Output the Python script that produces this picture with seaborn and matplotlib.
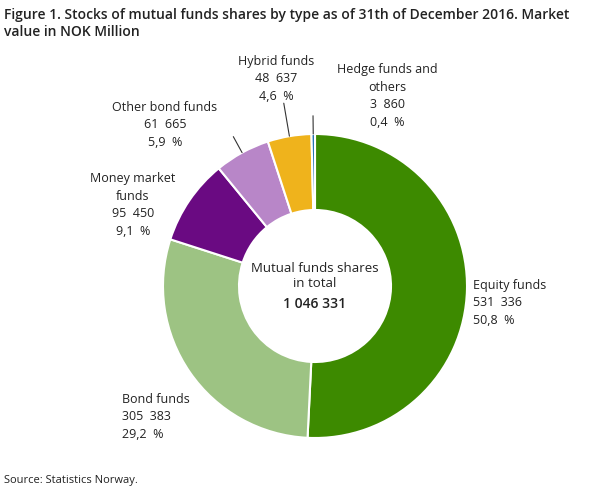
import matplotlib
matplotlib.use("Agg")
import matplotlib.pyplot as plt
import seaborn as sns
import numpy as np

sns.set_theme(style="white")
plt.rcParams['font.family'] = ['Open Sans', 'DejaVu Sans']

categories = ["Equity funds", "Bond funds", "Money market\nfunds", "Other bond funds", "Hybrid funds", "Hedge funds and\nothers"]
values = [531336, 305383, 95450, 61665, 48637, 3860]
value_labels = ["531  336", "305  383", "95  450", "61  665", "48  637", "3  860"]
pct_labels = ["50,8  %", "29,2  %", "9,1  %", "5,9  %", "4,6  %", "0,4  %"]
colors = ["#3d8a00", "#9dc383", "#6a0a82", "#b886c8", "#efb31c", "#1f6fb0"]

fig = plt.figure(figsize=(6.09, 4.89), dpi=100)
ax = fig.add_axes([0, 0, 1, 1])
ax.set_xlim(0, 609)
ax.set_ylim(489, 0)
ax.set_aspect("equal")
ax.axis("off")

cx, cy, R = 315, 287, 152
wedges, _ = ax.pie(values, colors=colors, center=(cx, cy), radius=R, startangle=-90,
                   counterclock=True, wedgeprops=dict(width=R * 0.5, edgecolor="white", linewidth=1.5))
ax.set_xlim(0, 609)
ax.set_ylim(489, 0)

label_pos = [(473, 303, "left"), (122, 417, "left"), (133, 205, "center"),
             (165, 125, "center"), (276, 79, "center"), (387, 96, "center")]
for (x, y, ha), c, v, p in zip(label_pos, categories, value_labels, pct_labels):
    ax.text(x, y, f"{c}\n{v}\n{p}", ha=ha, va="center", fontsize=9, color="#222222", linespacing=1.45)

# leader lines
for w, r0, r1 in [(wedges[3], 1.0, 1.12), (wedges[4], 1.0, 1.22), (wedges[5], 1.0, 1.12)]:
    th = np.deg2rad((w.theta1 + w.theta2) / 2)
    ax.plot([cx + R * r0 * np.cos(th), cx + R * r1 * np.cos(th)],
            [cy + R * r0 * np.sin(th), cy + R * r1 * np.sin(th)], color="#333333", lw=0.8)

ax.text(cx, 276, "Mutual funds shares\nin total", ha="center", va="center", fontsize=9.5, color="#222222")
ax.text(cx, 304, "1 046 331", ha="center", va="center", fontsize=10, fontweight="semibold", color="#222222")

ax.text(4, 8, "Figure 1. Stocks of mutual funds shares by type as of 31th of December 2016. Market\nvalue in NOK Million",
        ha="left", va="top", fontsize=10, fontweight="semibold", color="#222222", linespacing=1.3)
ax.text(4, 480, "Source: Statistics Norway.", ha="left", va="center", fontsize=8, color="#222222")

fig.savefig("out.png", dpi=100)
